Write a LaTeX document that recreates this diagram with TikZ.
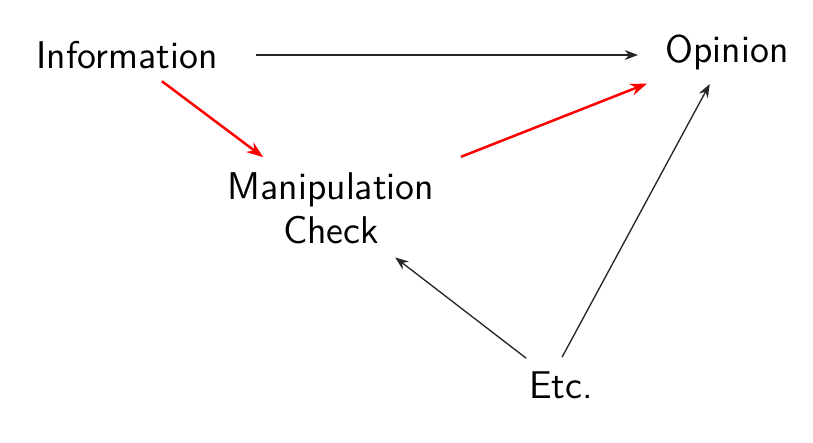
\documentclass[tikz,border=0pt]{standalone}
\usetikzlibrary{arrows.meta}
\begin{document}
\begin{tikzpicture}[x=0.3pt,y=-0.3pt,
  lbl/.style={font=\sffamily\fontsize{11.6}{13.2}\selectfont, inner sep=0pt, align=center},
  plain/.style={draw=black!85, line width=0.4pt, -{Stealth[length=4pt,width=3pt]}},
  redarr/.style={draw=red, line width=0.75pt, -{Stealth[length=5pt,width=3.6pt]}}]
\useasboundingbox (0,0) rectangle (813,442);
\node[lbl] (info) at (127,55) {Information};
\node[lbl] (op) at (727,52) {Opinion};
\node[lbl] (man) at (331,208) {Manipulation\\Check};
\node[lbl] (etc) at (561,385) {Etc.};
\draw[plain, shorten <=38.7pt, shorten >=26.7pt] (info.center) -- (op.center |- info.center);
\draw[redarr, shorten <=13.1pt, shorten >=25.4pt] (info.center) -- (man.center);
\draw[redarr, shorten <=41.9pt, shorten >=25.8pt] (man.center) -- (op.center);
\draw[plain, shorten <=13.2pt, shorten >=24.3pt] (etc.center) -- (man.center);
\draw[plain, shorten <=9.5pt, shorten >=10.9pt] ([xshift=-4.2pt]etc.center) -- (op.center);
\end{tikzpicture}
\end{document}
